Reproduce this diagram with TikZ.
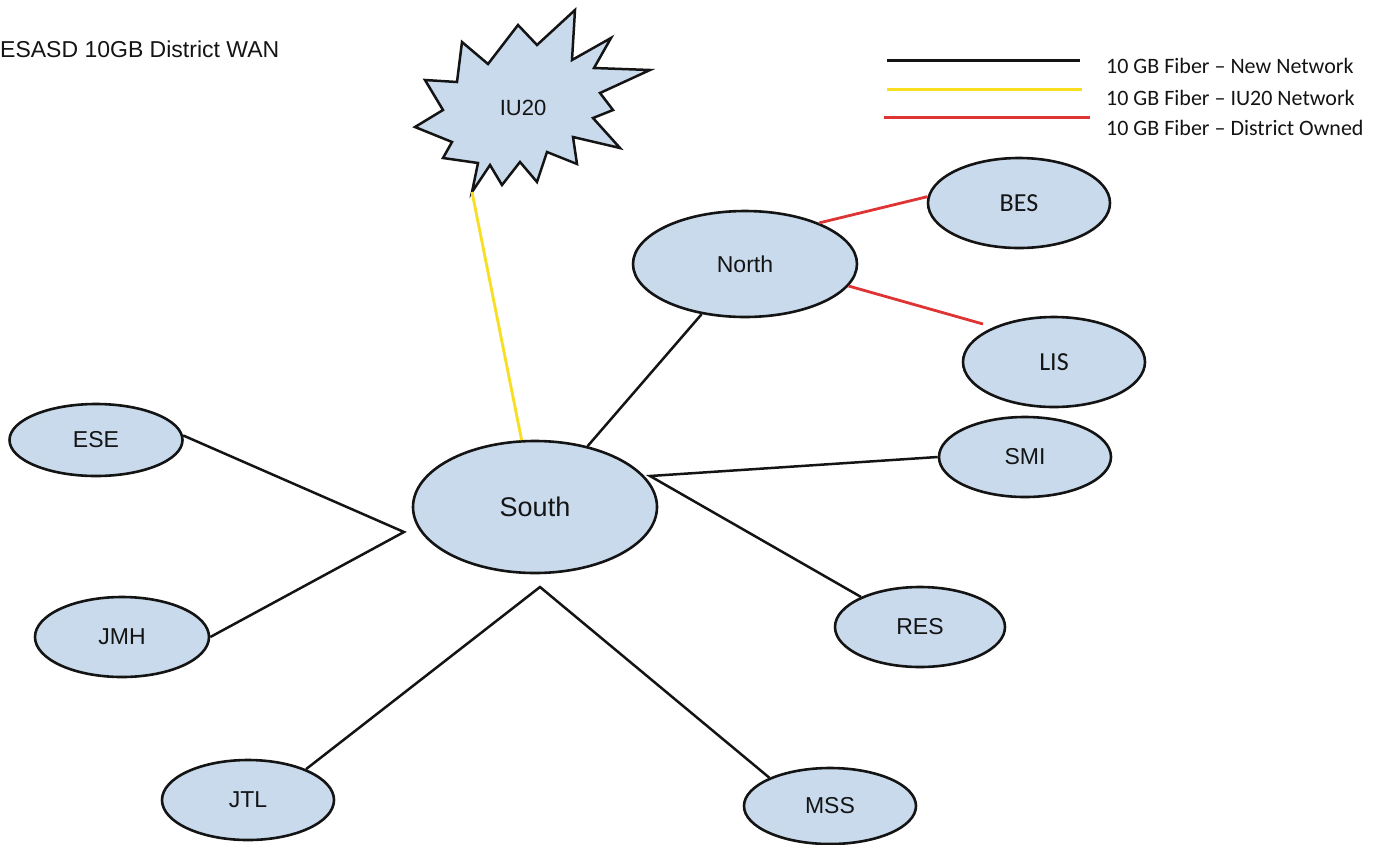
\documentclass[tikz,border=0pt]{standalone}
\usepackage{fontspec}
\setmainfont{Liberation Sans}
\newfontfamily\calib{Carlito}
\usetikzlibrary{shapes.geometric}

\definecolor{nodefill}{RGB}{200,218,236}
\definecolor{fibyellow}{RGB}{248,222,30}
\definecolor{fibred}{RGB}{222,52,52}
\definecolor{ink}{RGB}{20,20,20}

\begin{document}
\begin{tikzpicture}[x=1pt,y=-1pt,
  site/.style={ellipse, draw=ink, line width=2.6pt, fill=nodefill, inner sep=0pt,
    font=\fontsize{23}{26}\selectfont, text=ink},
  calsite/.style={site, font=\calib\fontsize{26}{30}\selectfont},
  link/.style={draw=ink, line width=2.5pt},
  ylink/.style={draw=fibyellow, line width=2.8pt},
  rlink/.style={draw=fibred, line width=2.8pt},
  legtext/.style={anchor=base west, inner sep=0pt, text=ink, font=\calib\fontsize{22}{26}\selectfont},
  burst/.style={draw=ink, line width=2.5pt, fill=nodefill, line join=miter, miter limit=6}
]
\useasboundingbox (0,0) rectangle (1400,844);

% title
\node[anchor=base west, inner sep=0pt, text=ink, font=\fontsize{23}{26}\selectfont] (title) at (0,57) {ESASD 10GB District WAN};

% legend
\coordinate (la1) at (887,60);  \coordinate (lb1) at (1080,60);
\coordinate (la2) at (887,89);  \coordinate (lb2) at (1082,89);
\coordinate (la3) at (884,117); \coordinate (lb3) at (1090,117);
\draw[ink, line width=3pt] (la1) -- (lb1);
\draw[fibyellow, line width=3pt] (la2) -- (lb2);
\draw[fibred, line width=3pt] (la3) -- (lb3);
\node[legtext] (leg1) at (1106,73) {10 GB Fiber – New Network};
\node[legtext] (leg2) at (1106,105) {10 GB Fiber – IU20 Network};
\node[legtext] (leg3) at (1106,135) {10 GB Fiber – District Owned};

% IU20 starburst
\draw[burst] (462,42) -- (488,64) -- (518,25) -- (537,45) -- (575,10) -- (572,60)
  -- (611,38) -- (594,68) -- (650,70) -- (600,93) -- (613,110) -- (593,118)
  -- (620,148) -- (573,137) -- (577,164) -- (547,152) -- (537,182) -- (520,162)
  -- (502,185) -- (490,165) -- (472,192) -- (478,163) -- (443,158) -- (452,142)
  -- (415,127) -- (443,110) -- (425,80) -- (457,82) -- cycle;
\node[inner sep=0pt, text=ink, font=\fontsize{22}{26}\selectfont] (IU20) at (523,108) {IU20};
\coordinate (iutip) at (472,192);

% sites
\node[site, minimum width=224pt, minimum height=106pt] (North) at (745,264) {North};
\node[site, minimum width=244pt, minimum height=132pt, font=\fontsize{27}{30}\selectfont] (South) at (535,507) {South};
\node[calsite, minimum width=182pt, minimum height=90pt] (BES) at (1019,203) {BES};
\node[calsite, minimum width=182pt, minimum height=90pt] (LIS) at (1054,362) {LIS};
\node[site, minimum width=172pt, minimum height=80pt] (SMI) at (1025,457) {SMI};
\node[site, minimum width=170pt, minimum height=80pt] (RES) at (920,627) {RES};
\node[site, minimum width=172pt, minimum height=76pt] (MSS) at (830,806) {MSS};
\node[site, minimum width=172pt, minimum height=80pt] (JTL) at (248,800) {JTL};
\node[site, minimum width=174pt, minimum height=80pt] (JMH) at (122,637) {JMH};
\node[site, minimum width=173pt, minimum height=72pt] (ESE) at (96,440) {ESE};

% junction points near South
\coordinate (jw) at (404,532);
\coordinate (js) at (540,587);
\coordinate (je) at (650,476);
\coordinate (lisgap) at (983,324);

% connectors
\draw[ylink] (iutip) -- (South);
\draw[link] (South) -- (North);
\draw[rlink] (North.29) -- (BES.176);
\draw[rlink] (North.-12) -- (lisgap);
\draw[link] (ESE.3) -- (jw) -- (JMH.east);
\draw[link] (JTL.28) -- (js) -- (MSS.155);
\draw[link] (SMI.west) -- (je) -- (RES.153);
\end{tikzpicture}
\end{document}
